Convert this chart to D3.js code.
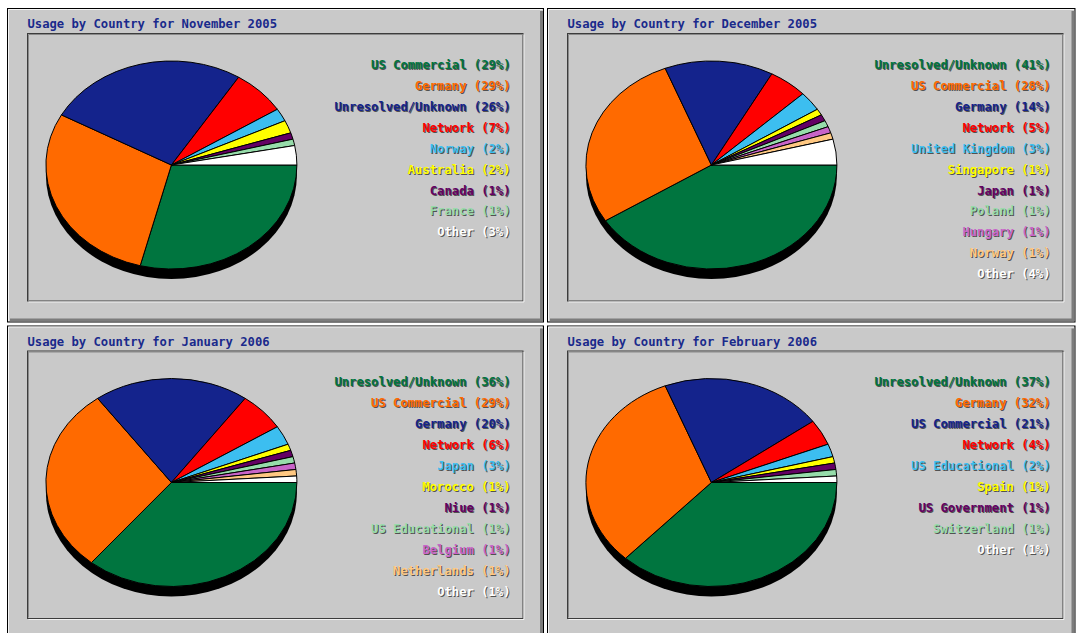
<!DOCTYPE html>
<html><head><meta charset="utf-8">
<script src="https://cdn.jsdelivr.net/npm/d3@7"></script>
<style>body{margin:0;background:#fff}svg{display:block}</style>
</head><body><svg id="c" width="1076" height="633"></svg>
<script>
// ---- data ----
const months = ["November 2005", "December 2005", "January 2006", "February 2006"];
const novCategories = ["US Commercial", "Germany", "Unresolved/Unknown", "Network", "Norway", "Australia", "Canada", "France", "Other"];
const novValues = [29, 29, 26, 7, 2, 2, 1, 1, 3];
const decCategories = ["Unresolved/Unknown", "US Commercial", "Germany", "Network", "United Kingdom", "Singapore", "Japan", "Poland", "Hungary", "Norway", "Other"];
const decValues = [41, 28, 14, 5, 3, 1, 1, 1, 1, 1, 4];
const janCategories = ["Unresolved/Unknown", "US Commercial", "Germany", "Network", "Japan", "Morocco", "Niue", "US Educational", "Belgium", "Netherlands", "Other"];
const janValues = [36, 29, 20, 6, 3, 1, 1, 1, 1, 1, 1];
const febCategories = ["Unresolved/Unknown", "Germany", "US Commercial", "Network", "US Educational", "Spain", "US Government", "Switzerland", "Other"];
const febValues = [37, 32, 21, 4, 2, 1, 1, 1, 1];

// ---- style ----
const sliceColors = ["#00753f", "#ff6a00", "#14238c", "#ff0000", "#3cbef0", "#ffff00", "#640064", "#96dcaa", "#c864c8", "#ffc882"];
const otherColor = "#ffffff";
const panelGray = "#c9c9c9";
const titleColor = "#1a2a8c";
const fontFamily = "'DejaVu Sans Mono', 'Liberation Mono', monospace";

const panels = [
  {title: months[0], cats: novCategories, vals: novValues, dx: 0, dy: 0},
  {title: months[1], cats: decCategories, vals: decValues, dx: 540, dy: 0},
  {title: months[2], cats: janCategories, vals: janValues, dx: 0, dy: 317.5},
  {title: months[3], cats: febCategories, vals: febValues, dx: 540, dy: 317.5}
];

const svg = d3.select("#c");
svg.append("rect").attr("width", 1076).attr("height", 633).attr("fill", "#fff");

const pie = d3.pie().sort(null).startAngle(Math.PI / 2).endAngle(Math.PI / 2 + 2 * Math.PI);
const rx = 125.5, ry = 104;
const arc = d3.arc().innerRadius(0).outerRadius(rx);

panels.forEach((p, pi) => {
  const g = svg.append("g").attr("transform", `translate(${p.dx},${p.dy})`);
  // outer raised panel
  const ox = 7.5, oy = 8.5;
  const ow = (pi % 2 === 1) ? 527.5 : 536;
  const oh = (pi >= 2) ? 330 : 313.5;
  g.append("rect").attr("x", ox).attr("y", oy).attr("width", ow).attr("height", oh)
    .attr("fill", panelGray).attr("stroke", "#000").attr("stroke-width", 1);
  g.append("path").attr("d", `M${ox + 1},${oy + oh - 1}V${oy + 1}H${ox + ow - 1}`)
    .attr("fill", "none").attr("stroke", "#f4f4f4").attr("stroke-width", 1);
  g.append("path").attr("d", `M${ox + 2.5},${oy + oh - 2}H${ox + ow - 2}V${oy + 2.5}`)
    .attr("fill", "none").attr("stroke", "#7c7c7c").attr("stroke-width", 3);

  // inner frame
  const ix = 27.5, iy = 33.5, iw = 495.5, ih = 267.5;
  g.append("rect").attr("x", ix).attr("y", iy).attr("width", iw).attr("height", ih)
    .attr("fill", panelGray).attr("stroke", "#3c3c3c").attr("stroke-width", 1);
  g.append("path").attr("d", `M${ix + 1},${iy + ih - 1}V${iy + 1}H${ix + iw - 1}`)
    .attr("fill", "none").attr("stroke", "#8a8a8a").attr("stroke-width", 1);
  g.append("path").attr("d", `M${ix + 1},${iy + ih + 1}H${ix + iw + 1}V${iy + 1}`)
    .attr("fill", "none").attr("stroke", "#f2f2f2").attr("stroke-width", 1);

  // title
  g.append("text").attr("x", 27.5).attr("y", 28)
    .attr("font-family", fontFamily).attr("font-size", "12.2px").attr("font-weight", "bold")
    .attr("fill", titleColor).text("Usage by Country for " + p.title);

  const colorOf = (i) => p.cats[i] === "Other" ? otherColor : sliceColors[i];

  // pie
  const cx = 171.4, cy = 165;
  g.append("ellipse").attr("cx", cx).attr("cy", cy + 10).attr("rx", rx).attr("ry", ry).attr("fill", "#000");
  g.append("g").attr("transform", `translate(${cx},${cy}) scale(1,${ry / rx})`)
    .selectAll("path").data(pie(p.vals)).join("path")
    .attr("d", arc)
    .attr("fill", (d, i) => colorOf(i))
    .attr("stroke", "#000").attr("stroke-width", 1).attr("stroke-linejoin", "round")
    .attr("vector-effect", "non-scaling-stroke");

  // legend (with 1px dark drop shadow)
  const lg = g.append("g");
  lg.append("g").selectAll("text").data(p.cats).join("text")
    .attr("x", 511.5).attr("y", (d, i) => 69.8 + i * 20.95)
    .attr("text-anchor", "end")
    .attr("font-family", fontFamily).attr("font-size", "12.2px").attr("font-weight", "bold")
    .attr("fill", "#2a2a2a").attr("opacity", 0.75)
    .text((d, i) => `${d} (${p.vals[i]}%)`);
  lg.append("g").selectAll("text").data(p.cats).join("text")
    .attr("x", 510.5).attr("y", (d, i) => 68.8 + i * 20.95)
    .attr("text-anchor", "end")
    .attr("font-family", fontFamily).attr("font-size", "12.2px").attr("font-weight", "bold")
    .attr("fill", (d, i) => colorOf(i))
    .text((d, i) => `${d} (${p.vals[i]}%)`);
});
</script>
</body></html>
